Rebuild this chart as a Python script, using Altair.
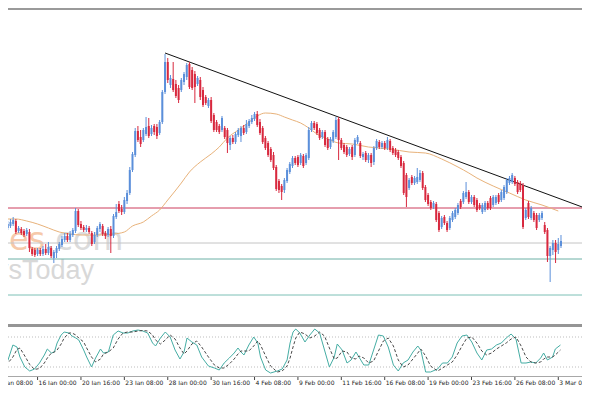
import altair as alt
import pandas as pd

# ---------------- data (H4 bars, bar 0 = 16 Jan 00:00) ----------------
FIRST_BAR = -12

opens = [
    168, 172, 174, 176, 179, 169, 171, 169, 166, 168,
    151, 150, 146, 150, 146, 151, 147, 152, 142, 147,
    151, 155, 160, 164, 160, 165, 169, 189, 176, 173,
    170, 172, 167, 158, 165, 171, 174, 167, 165, 171,
    164, 183, 196, 191, 188, 199, 207, 230, 245, 269,
    263, 260, 266, 274, 266, 274, 273, 267, 278, 308,
    338, 315, 321, 316, 312, 310, 318, 323, 336, 330,
    326, 316, 320, 310, 303, 294, 300, 285, 278, 274,
    270, 272, 270, 255, 262, 258, 265, 264, 272, 268,
    274, 278, 281, 286, 278, 272, 262, 257, 251, 245,
    233, 219, 214, 210, 219, 228, 234, 242, 243, 237,
    244, 237, 242, 270, 277, 276, 270, 263, 268, 261,
    253, 259, 263, 281, 260, 255, 253, 246, 253, 245,
    258, 257, 243, 247, 240, 245, 238, 252, 258, 253,
    257, 252, 259, 252, 250, 248, 243, 237, 225, 212,
    223, 217, 218, 220, 227, 213, 205, 198, 193, 196,
    187, 173, 183, 177, 172, 180, 183, 187, 199, 198,
    203, 208, 198, 203, 200, 195, 188, 190, 197, 202,
    195, 197, 205, 200, 202, 208, 217, 218, 222, 218,
    217, 215, 182, 197, 182, 187, 185, 180, 182, 175,
    170, 144, 150, 157, 150, 154,
]
highs = [
    176, 179, 181, 183, 181, 174, 173, 171, 172, 171,
    153, 152, 152, 152, 154, 156, 158, 154, 150, 154,
    158, 164, 167, 167, 169, 172, 192, 191, 179, 175,
    175, 174, 169, 168, 174, 178, 176, 169, 173, 174,
    186, 196, 199, 195, 203, 210, 233, 248, 272, 274,
    270, 272, 283, 282, 275, 276, 276, 280, 310, 346,
    342, 325, 338, 320, 315, 322, 328, 337, 338, 333,
    329, 324, 323, 313, 305, 302, 303, 287, 280, 276,
    284, 274, 272, 264, 265, 268, 272, 274, 275, 280,
    281, 285, 288, 289, 281, 274, 264, 259, 253, 248,
    235, 221, 216, 222, 232, 238, 244, 244, 245, 247,
    246, 247, 273, 279, 279, 278, 272, 270, 270, 263,
    263, 270, 283, 283, 262, 257, 255, 253, 255, 262,
    265, 259, 248, 249, 247, 247, 254, 261, 260, 259,
    259, 263, 261, 254, 252, 250, 245, 239, 227, 222,
    225, 224, 232, 230, 229, 215, 207, 200, 199, 198,
    189, 184, 185, 179, 184, 189, 192, 197, 201, 209,
    218, 210, 205, 205, 202, 197, 197, 199, 199, 204,
    205, 205, 207, 210, 215, 222, 224, 227, 224, 220,
    219, 217, 192, 199, 194, 189, 187, 187, 189, 178,
    172, 154, 160, 160, 162, 165,
]
lows = [
    166, 170, 172, 174, 166, 167, 165, 163, 164, 148,
    144, 143, 144, 144, 144, 145, 145, 142, 137, 142,
    149, 153, 158, 158, 158, 163, 167, 173, 170, 168,
    168, 166, 154, 156, 163, 168, 164, 161, 163, 147,
    162, 181, 187, 185, 186, 196, 205, 228, 243, 258,
    253, 258, 264, 262, 264, 265, 261, 265, 276, 306,
    317, 312, 308, 302, 297, 308, 315, 320, 311, 310,
    297, 314, 300, 293, 295, 292, 277, 268, 268, 266,
    268, 261, 247, 250, 256, 256, 263, 258, 265, 266,
    272, 276, 279, 273, 265, 256, 250, 243, 238, 230,
    209, 207, 200, 207, 217, 226, 232, 235, 233, 235,
    232, 235, 240, 268, 270, 265, 260, 261, 253, 250,
    251, 257, 261, 240, 250, 246, 243, 244, 240, 243,
    256, 242, 240, 238, 237, 233, 235, 250, 251, 251,
    250, 250, 248, 245, 243, 240, 232, 205, 193, 210,
    215, 215, 216, 218, 210, 198, 194, 190, 191, 178,
    168, 171, 175, 168, 170, 178, 181, 185, 191, 196,
    201, 196, 196, 193, 188, 190, 186, 188, 190, 190,
    193, 195, 196, 198, 200, 206, 215, 216, 214, 206,
    208, 171, 180, 181, 180, 178, 170, 178, 180, 166,
    138, 118, 145, 137, 146, 152,
]
closes = [
    174, 176, 178, 180, 168, 172, 167, 165, 170, 152,
    146, 145, 150, 146, 151, 147, 153, 144, 148, 152,
    156, 161, 164, 160, 166, 170, 189, 175, 172, 170,
    172, 168, 156, 165, 172, 176, 166, 164, 171, 164,
    184, 188, 189, 188, 200, 207, 230, 246, 269, 260,
    256, 270, 273, 264, 272, 268, 264, 278, 308, 338,
    320, 322, 310, 304, 300, 320, 326, 335, 313, 312,
    313, 322, 303, 295, 297, 300, 279, 270, 270, 268,
    282, 263, 257, 262, 258, 266, 270, 272, 267, 276,
    279, 282, 286, 275, 267, 258, 252, 245, 240, 232,
    211, 210, 208, 220, 230, 236, 242, 237, 235, 245,
    234, 245, 270, 277, 272, 267, 262, 268, 255, 252,
    261, 268, 280, 260, 252, 248, 245, 251, 243, 260,
    263, 244, 246, 240, 245, 237, 252, 259, 253, 257,
    252, 260, 250, 247, 245, 242, 234, 207, 203, 220,
    217, 222, 223, 227, 212, 200, 196, 192, 197, 180,
    170, 182, 177, 170, 182, 187, 190, 195, 193, 207,
    208, 198, 203, 195, 190, 192, 195, 197, 192, 192,
    203, 203, 198, 208, 213, 220, 222, 225, 216, 208,
    210, 173, 190, 183, 192, 180, 172, 185, 187, 168,
    144, 152, 157, 148, 156, 159,
]

# moving average (read at sample bars)
ma_bar = [-12, -8, -4, 0, 4, 8, 12, 16, 22, 28, 32, 35, 39, 42, 45, 48, 51, 53, 56, 60,
          64, 67, 70, 74, 78, 81, 84, 88, 91, 94, 97, 100, 103, 107, 111, 116, 122, 130,
          137, 143, 149, 155, 159, 162, 168, 174, 180, 186, 192]
ma_val = [181, 181, 179, 176, 172, 168, 166, 165, 165, 166, 168, 174, 178, 184, 190, 200,
          210, 217, 228, 238, 246, 253, 262, 270, 278, 284, 287, 286, 283, 280, 277, 272,
          266, 261, 257, 256, 253, 251, 248, 247, 241, 233, 227, 222, 214, 207, 200, 195, 189]

# trend line
trend_bar = [47, 201.8]
trend_val = [347, 192]

# horizontal levels
level_names = ["resistance", "pivot", "support 1", "support 2"]
level_vals = [192, 157, 141, 105]
level_colors = ["#CC3D5C", "#C4C4C4", "#6DB0A6", "#7DC0B6"]

# stochastic oscillator (%K solid, %D dashed)
stoch_bar = [-12.0, -10.9, -9.1, -7.6, -6.5, -4.7, -2.9, -1.1, 0.7, 2.5, 3.6, 5.1, 6.2, 7.2, 8.7,
             9.8, 11.6, 12.7, 14.1, 15.2, 17.0, 18.1, 19.9, 21.4, 23.2, 24.3, 26.1, 27.9, 29.7,
             31.5, 33.3, 35.1, 37.0, 38.8, 40.6, 42.4, 43.5, 45.3, 47.1, 48.9, 50.7, 52.5, 54.0,
             55.1, 56.9, 58.7, 60.5, 63.0, 65.2, 67.0, 68.8, 70.7, 72.5, 73.9, 75.0, 76.1, 77.9,
             79.7, 81.2, 82.2, 84.1, 85.9, 88.4, 90.2, 92.0, 93.1, 94.2, 95.2, 96.7, 98.6, 100.4,
             102.2, 104.0, 105.8, 107.6, 109.4, 110.5, 112.3, 114.1, 115.6, 117.4, 118.5, 120.3,
             122.1, 123.9, 125.7, 127.5, 129.3, 131.2, 133.0, 134.8, 136.6, 138.4, 140.2, 141.3,
             143.1, 144.9, 147.5, 149.3, 151.1, 152.9, 154.7, 156.5, 158.3, 160.1, 162.0, 163.8,
             165.6, 167.4, 169.2, 171.0, 172.8, 174.6, 176.4, 178.3, 180.1, 181.9, 183.7, 185.5,
             186.6, 188.0, 189.9, 190.9, 192.8]
stoch_k = [24, 34, 64, 60, 40, 20, 12, 16, 28, 44, 56, 48, 50, 68, 84,
           90, 88, 82, 78, 74, 54, 40, 20, 38, 56, 48, 50, 84, 92,
           88, 88, 92, 94, 92, 88, 68, 62, 78, 90, 80, 54, 36, 50,
           78, 70, 64, 40, 22, 18, 14, 28, 38, 48, 58, 50, 44, 64,
           80, 68, 40, 14, 8, 12, 16, 34, 68, 90, 96, 88, 70, 84,
           96, 88, 54, 20, 40, 66, 54, 28, 34, 50, 40, 24,
           24, 54, 84, 82, 60, 24, 12, 28, 34, 50, 62, 54,
           10, 10, 16, 28, 28, 40, 68, 82, 84, 70, 48, 34,
           54, 56, 64, 68, 78, 86, 76, 28, 28, 30, 28, 38,
           48, 34, 40, 56, 64]
stoch_d = [30, 28, 40, 55, 58, 42, 25, 15, 17, 28, 38, 48, 50, 54, 66,
           78, 88, 88, 84, 78, 70, 58, 40, 30, 36, 46, 50, 58, 76,
           88, 90, 90, 92, 93, 92, 84, 74, 66, 74, 84, 76, 58, 46,
           52, 66, 72, 60, 40, 24, 18, 18, 26, 36, 46, 52, 52, 52,
           62, 72, 64, 42, 22, 10, 12, 22, 38, 60, 78, 90, 86, 78,
           82, 90, 82, 58, 36, 38, 52, 50, 38, 36, 42, 38,
           28, 32, 52, 72, 78, 62, 34, 20, 24, 36, 48, 56,
           42, 22, 12, 18, 24, 30, 44, 62, 78, 80, 68, 52,
           44, 48, 56, 62, 68, 76, 80, 62, 40, 30, 28, 30,
           36, 40, 40, 44, 54]
stoch_levels = [80, 20]

# time axis labels
tick_bars = [-16, 0, 16, 32, 48, 64, 80, 96, 112, 128, 144, 160, 176, 192]
tick_labels = ["13 Jan 08:00", "16 Jan 00:00", "20 Jan 16:00", "23 Jan 08:00", "28 Jan 00:00",
               "30 Jan 16:00", "4 Feb 08:00", "9 Feb 00:00", "11 Feb 16:00", "16 Feb 08:00",
               "19 Feb 00:00", "23 Feb 16:00", "26 Feb 08:00", "3 Mar 00:00"]

# ---------------- tables ----------------
n = len(opens)
bars = pd.DataFrame({
    "bar": list(range(FIRST_BAR, FIRST_BAR + n)),
    "open": opens, "high": highs, "low": lows, "close": closes,
})
bars["dir"] = ["up" if c >= o else "down" for o, c in zip(opens, closes)]
ma_df = pd.DataFrame({"bar": ma_bar, "price": ma_val})
trend_df = pd.DataFrame({"bar": trend_bar, "price": trend_val})
lev_df = pd.DataFrame({"name": level_names, "price": level_vals, "color": level_colors})
st_df = pd.DataFrame({"bar": stoch_bar, "k": stoch_k, "d": stoch_d})
stl_df = pd.DataFrame({"lvl": stoch_levels})
tick_df = pd.DataFrame({"bar": tick_bars, "label": tick_labels})
one = pd.DataFrame({"k": [0]})

W, H = 574, 377
XS = alt.Scale(domain=[-9.06, 198.9], nice=False, zero=False)
PS = alt.Scale(domain=[15, 392], nice=False, zero=False)
SS = alt.Scale(domain=[-16, 738], nice=False, zero=False)
xe = alt.X("bar:Q", scale=XS, axis=None)
dir_color = alt.Color("dir:N", scale=alt.Scale(domain=["up", "down"],
                                               range=["#5B8FDA", "#D8283E"]), legend=None)

wm1 = alt.Chart(one).mark_text(text="ies", font="DejaVu Sans", fontSize=32, align="left",
                               baseline="alphabetic", color="#F6C9AA").encode(
    x=alt.value(-8), y=alt.value(242))
wm2 = alt.Chart(one).mark_text(text=".com", font="DejaVu Sans", fontSize=32, align="left",
                               baseline="alphabetic", color="#DCDCDC").encode(
    x=alt.value(37), y=alt.value(242))
wm3 = alt.Chart(one).mark_text(text="ysToday", font="Liberation Sans", fontSize=27, align="left",
                               baseline="alphabetic", color="#D8D8D8").encode(
    x=alt.value(-13), y=alt.value(271))

levels = alt.Chart(lev_df).mark_rule(strokeWidth=1).encode(
    y=alt.Y("price:Q", scale=PS, axis=None), color=alt.Color("color:N", scale=None))
ma = alt.Chart(ma_df).mark_line(interpolate="monotone", color="#E8B27A", strokeWidth=1).encode(
    x=xe, y=alt.Y("price:Q", scale=PS, axis=None))
trend = alt.Chart(trend_df).mark_line(color="#111111", strokeWidth=1, clip=True).encode(
    x=xe, y=alt.Y("price:Q", scale=PS, axis=None))
wicks = alt.Chart(bars).mark_rule(strokeWidth=1).encode(
    x=xe, y=alt.Y("low:Q", scale=PS, axis=None), y2="high:Q", color=dir_color)
bodies = alt.Chart(bars).mark_bar(size=2).encode(
    x=xe, y=alt.Y("open:Q", scale=PS, axis=None), y2="close:Q", color=dir_color)

top_frame = alt.Chart(one).mark_rule(color="#9A9A9A", strokeWidth=2).encode(
    x=alt.value(0), x2=alt.value(W), y=alt.value(1))
sep = alt.Chart(one).mark_rule(color="#959595", strokeWidth=3).encode(
    x=alt.value(0), x2=alt.value(W), y=alt.value(317.5))
bottom = alt.Chart(one).mark_rule(color="#A8A8A8", strokeWidth=1).encode(
    x=alt.value(0), x2=alt.value(W), y=alt.value(368.5))

slev = alt.Chart(stl_df).mark_rule(color="#BDBDBD", strokeWidth=1, strokeDash=[1, 2]).encode(
    y=alt.Y("lvl:Q", scale=SS, axis=None))
sk = alt.Chart(st_df).mark_line(color="#45ADA4", strokeWidth=1, clip=True).encode(
    x=xe, y=alt.Y("k:Q", scale=SS, axis=None))
sd = alt.Chart(st_df).mark_line(color="#4A4A4A", strokeWidth=1, strokeDash=[3, 2], clip=True).encode(
    x=xe, y=alt.Y("d:Q", scale=SS, axis=None))

ticks = alt.Chart(tick_df).mark_rule(color="#444444", strokeWidth=1).encode(
    x=xe, y=alt.value(369), y2=alt.value(372))
labels = alt.Chart(tick_df).mark_text(align="left", baseline="middle", dx=1, font="DejaVu Sans",
                                      fontSize=6, color="#222222").encode(
    x=xe, y=alt.value(375), text="label:N")

chart = alt.layer(
    wm1, wm2, wm3, levels, ma, trend, wicks, bodies,
    top_frame, sep, bottom, slev, sk, sd, ticks, labels,
).resolve_scale(y="independent").properties(
    width=W, height=H, padding=0, autosize=alt.AutoSizeParams(type="none"),
).configure_view(stroke=None)

chart.save("out.html", embed_options={"renderer": "svg", "actions": False})
